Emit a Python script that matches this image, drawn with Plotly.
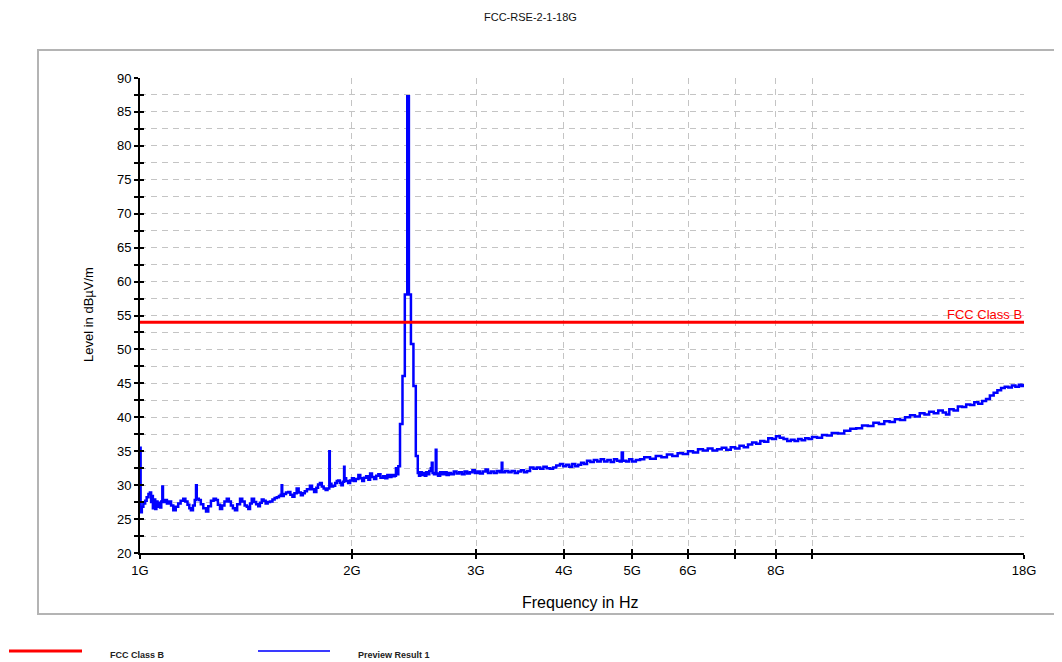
import math
import plotly.graph_objects as go

# ---------------- data ----------------
TITLE = "FCC-RSE-2-1-18G"
X_TITLE = "Frequency in Hz"
Y_TITLE = "Level in dBµV/m"
LIMIT_NAME = "FCC Class B"
TRACE_NAME = "Preview Result 1"

X_TICK_VALS = [1, 2, 3, 4, 5, 6, 7, 8, 9, 18]
X_TICK_TEXT = ["1G", "2G", "3G", "4G", "5G", "6G", "", "8G", "", "18G"]
Y_TICK_VALS = [20 + 2.5 * i for i in range(29)]
Y_TICK_TEXT = [str(int(v)) if v % 5 == 0 else "" for v in Y_TICK_VALS]

LIMIT_FREQ = [1.0, 18.0]
LIMIT_LEVEL = [54.0, 54.0]

freq_1 = [1.000, 1.002, 1.006, 1.011, 1.017, 1.022, 1.028, 1.033, 1.037, 1.040,
          1.043, 1.047, 1.051, 1.055, 1.059, 1.063, 1.068, 1.072, 1.0757, 1.078,
          1.085, 1.092, 1.100, 1.107, 1.115, 1.124, 1.133, 1.142, 1.152, 1.160,
          1.168, 1.175, 1.181, 1.189, 1.196, 1.201, 1.204, 1.212, 1.220, 1.230,
          1.241, 1.250, 1.261, 1.272, 1.282, 1.290, 1.299, 1.308, 1.318, 1.328,
          1.337, 1.346, 1.355, 1.364, 1.374, 1.387, 1.397, 1.408, 1.418, 1.425,
          1.433, 1.441, 1.452, 1.462, 1.472, 1.480, 1.489, 1.498, 1.508, 1.518,
          1.530, 1.542, 1.553, 1.564, 1.575, 1.584, 1.589, 1.592, 1.600, 1.612]
level_1 = [35.5, 26.0, 26.8, 27.3, 27.7, 28.2, 28.7, 28.9, 27.5, 28.4,
           26.6, 27.9, 26.5, 27.6, 26.8, 27.4, 26.7, 27.6, 29.8, 27.5,
           27.8, 27.3, 27.6, 27.0, 26.3, 26.8, 27.3, 27.7, 28.0, 27.6,
           27.1, 26.6, 26.3, 27.0, 27.8, 30.0, 28.0, 27.8, 27.2, 26.6,
           26.1, 26.9, 27.7, 28.0, 27.8, 27.1, 26.5, 27.0, 27.6, 28.0,
           27.6, 27.0, 26.6, 26.3, 27.2, 28.0, 27.6, 27.0, 26.8, 26.5,
           27.3, 28.0, 27.5, 27.2, 26.9, 27.4, 27.9, 27.7, 27.3, 27.5,
           27.6, 27.9, 28.1, 28.2, 28.4, 28.6, 30.0, 28.4, 28.7, 28.9]

freq_2 = [1.624, 1.635, 1.646, 1.657, 1.669, 1.680, 1.692, 1.703, 1.714, 1.726,
          1.743, 1.755, 1.767, 1.780, 1.790, 1.801, 1.812, 1.823, 1.835, 1.846,
          1.855, 1.857, 1.860, 1.870, 1.880, 1.893, 1.903, 1.912, 1.922, 1.932,
          1.941, 1.949, 1.952, 1.962, 1.975, 1.988, 2.000, 2.012, 2.025, 2.042,
          2.055, 2.068, 2.080, 2.095, 2.110, 2.122, 2.135, 2.150, 2.165, 2.180,
          2.195, 2.215, 2.230, 2.245, 2.260, 2.275, 2.290, 2.300]
level_2 = [29.0, 28.6, 28.3, 28.8, 29.5, 28.9, 28.5, 28.8, 29.1, 29.4,
           29.9, 29.4, 29.0, 29.6, 30.1, 30.3, 29.8, 29.5, 29.3, 29.5,
           29.5, 35.0, 30.2, 29.8, 29.9, 30.3, 30.6, 30.7, 30.3, 30.0,
           30.5, 32.7, 31.0, 30.6, 30.3, 30.7, 31.0, 30.6, 30.9, 31.5,
           31.0, 30.6, 31.1, 31.3, 30.8, 31.7, 31.2, 30.9, 31.4, 31.6,
           31.1, 31.3, 31.0, 31.5, 31.2, 31.5, 31.3, 31.4]

freq_3 = [2.309, 2.318, 2.327, 2.340, 2.359, 2.377, 2.396, 2.409, 2.425, 2.445, 2.464, 2.480]
level_3 = [32.5, 31.6, 32.8, 39.0, 46.1, 58.1, 87.3, 58.1, 50.8, 44.6, 34.3, 31.8]

freq_4 = [2.490, 2.500, 2.512, 2.525, 2.538, 2.550, 2.562, 2.575, 2.588, 2.596,
          2.603, 2.615, 2.630, 2.636, 2.650, 2.668, 2.685, 2.705, 2.725, 2.745,
          2.765, 2.790, 2.815, 2.840, 2.865, 2.890, 2.915, 2.940, 2.965, 2.990,
          3.015, 3.040, 3.068, 3.095, 3.120, 3.150, 3.180, 3.210, 3.240, 3.263,
          3.270, 3.300, 3.335, 3.370, 3.405, 3.440, 3.475, 3.510, 3.545, 3.580,
          3.620, 3.660, 3.700, 3.740, 3.780, 3.820, 3.860, 3.900, 3.948, 3.990,
          4.030, 4.070, 4.110, 4.150, 4.190, 4.230, 4.270, 4.313, 4.360, 4.410,
          4.460, 4.510, 4.560, 4.610, 4.660, 4.710, 4.757, 4.800, 4.831, 4.850,
          4.900, 4.950, 5.000, 5.060]
level_4 = [31.4, 31.9, 31.5, 31.8, 31.4, 31.9, 31.6, 32.1, 32.5, 33.3,
           31.8, 31.6, 35.2, 31.7, 31.4, 31.9, 31.6, 31.9, 31.5, 31.8,
           31.6, 32.0, 31.7, 31.9, 31.6, 32.0, 31.7, 31.9, 32.2, 31.8,
           32.0, 31.7, 32.0, 32.3, 31.8, 32.0, 31.8, 32.1, 31.9, 33.3,
           31.9, 32.1, 31.9, 32.1, 31.8, 32.0, 32.2, 31.9, 32.1, 32.6,
           32.4, 32.6, 32.4, 32.7, 32.5, 32.4, 32.6, 32.9, 33.1, 32.8,
           33.0, 32.7, 33.1, 32.8, 33.0, 33.3, 33.1, 33.6, 33.4, 33.7,
           33.5, 33.8, 33.5, 33.7, 33.4, 33.8, 33.6, 33.5, 34.8, 33.6,
           33.5, 33.8, 33.5, 33.7]

freq_5 = [5.130, 5.200, 5.300, 5.400, 5.500, 5.600, 5.700, 5.800, 5.900, 6.000,
          6.100, 6.200, 6.300, 6.400, 6.500, 6.600, 6.700, 6.800, 6.900, 7.000,
          7.100, 7.200, 7.300, 7.400, 7.500, 7.600, 7.700, 7.800, 7.900, 8.000,
          8.100, 8.200, 8.300, 8.400, 8.500, 8.600, 8.700, 8.800, 8.900, 9.000,
          9.150, 9.300, 9.450, 9.600, 9.800, 10.00, 10.20, 10.40, 10.60, 10.80,
          11.00, 11.20, 11.40, 11.60, 11.80, 12.00, 12.20, 12.40, 12.60, 12.80,
          13.00, 13.20, 13.40, 13.60, 13.80, 13.95, 14.10, 14.30, 14.50, 14.70,
          14.90, 15.10, 15.30, 15.50, 15.70, 15.90, 16.10, 16.30, 16.50, 16.70,
          16.90, 17.10, 17.30, 17.50, 17.70, 17.85, 18.00]
level_5 = [33.8, 34.1, 33.9, 34.3, 34.1, 34.5, 34.3, 34.7, 34.6, 35.0,
           34.8, 35.3, 35.1, 35.4, 35.1, 35.3, 35.5, 35.2, 35.6, 35.4,
           35.8, 35.6, 36.0, 36.3, 36.1, 36.5, 36.4, 36.9, 36.8, 37.2,
           37.0, 36.8, 36.5, 36.7, 36.5, 36.8, 36.6, 36.9, 36.8, 37.1,
           37.0, 37.4, 37.3, 37.7, 37.6, 38.0, 38.3, 38.4, 38.8, 38.7,
           39.2, 39.0, 39.4, 39.3, 39.7, 39.6, 40.0, 40.3, 40.1, 40.6,
           40.4, 40.8, 40.6, 41.0, 40.7, 40.4, 41.2, 41.0, 41.6, 41.5,
           41.9, 41.8, 42.2, 42.0, 42.4, 42.7, 43.2, 43.6, 44.0, 44.3,
           44.5, 44.4, 44.7, 44.5, 44.8, 44.6, 44.9]

FREQ_GHZ = freq_1 + freq_2 + freq_3 + freq_4 + freq_5
LEVEL = level_1 + level_2 + level_3 + level_4 + level_5
assert len(FREQ_GHZ) == len(LEVEL)

# ---------------- figure ----------------
FONT = "Liberation Sans, Arial, sans-serif"
OFF = 8                      # browser body margin
W, H = 1062 - OFF, 662 - OFF
ML, MR, MT = 140 - OFF, 38, 78 - OFF
MB = H - (553 - OFF)
PW, PH = W - ML - MR, H - MT - MB


def px_x(p):
    """page pixel x -> paper coordinate"""
    return (p - OFF - ML) / PW


def px_y(p):
    """page pixel y -> paper coordinate"""
    return (H - MB - (p - OFF)) / PH


fig = go.Figure()

fig.add_trace(go.Scatter(x=FREQ_GHZ, y=LEVEL, mode="lines", line_shape="hv",
                         line=dict(color="#0000ff", width=2.5), name=TRACE_NAME,
                         showlegend=False, hoverinfo="skip"))
fig.add_trace(go.Scatter(x=LIMIT_FREQ, y=LIMIT_LEVEL, mode="lines",
                         line=dict(color="#ff0000", width=3), name=LIMIT_NAME,
                         showlegend=False, hoverinfo="skip"))
# dummy trace for overlay axes (crossing tick marks)
fig.add_trace(go.Scatter(x=[None], y=[None], xaxis="x2", yaxis="y2",
                         showlegend=False, hoverinfo="skip"))

xr = [0, math.log10(18)]
yr = [20, 90]

fig.update_layout(
    width=W, height=H,
    margin=dict(l=ML, r=MR, t=MT, b=MB),
    paper_bgcolor="white", plot_bgcolor="white",
    font=dict(family=FONT, color="black"),
    showlegend=False,
    xaxis=dict(type="log", range=xr, tickvals=X_TICK_VALS, ticktext=X_TICK_TEXT,
               showgrid=True, gridcolor="#c4c4c4", griddash="6px,5px", gridwidth=1,
               showline=True, linecolor="black", linewidth=2,
               ticks="outside", ticklen=4, tickwidth=1.5, tickcolor="black",
               tickfont=dict(size=13, family=FONT), zeroline=False),
    yaxis=dict(range=yr, tickvals=Y_TICK_VALS, ticktext=Y_TICK_TEXT,
               showgrid=True, gridcolor="#c4c4c4", griddash="6px,5px", gridwidth=1,
               showline=True, linecolor="black", linewidth=2,
               ticks="outside", ticklen=4, tickwidth=1.5, tickcolor="black",
               tickfont=dict(size=13, family=FONT), zeroline=False),
    xaxis2=dict(type="log", range=xr, overlaying="x", anchor="y2", side="bottom",
                tickvals=X_TICK_VALS, showticklabels=False, showgrid=False,
                ticks="inside", ticklen=4, tickwidth=1.5, tickcolor="black",
                showline=False, zeroline=False),
    yaxis2=dict(range=yr, overlaying="y", anchor="x2", side="left",
                tickvals=Y_TICK_VALS, showticklabels=False, showgrid=False,
                ticks="inside", ticklen=4, tickwidth=1.5, tickcolor="black",
                showline=False, zeroline=False),
)

shapes = [
    # outer frame
    dict(type="rect", xref="paper", yref="paper",
         x0=px_x(38), x1=px_x(1059), y0=px_y(614), y1=px_y(50),
         line=dict(color="#b4b4b4", width=2), fillcolor="rgba(0,0,0,0)", layer="below"),
    # legend swatches
    dict(type="line", xref="paper", yref="paper",
         x0=px_x(9), x1=px_x(82), y0=px_y(651), y1=px_y(651),
         line=dict(color="#ff0000", width=3)),
    dict(type="line", xref="paper", yref="paper",
         x0=px_x(258), x1=px_x(330), y0=px_y(651), y1=px_y(651),
         line=dict(color="#3a3aff", width=2)),
]

annotations = [
    dict(text=TITLE, xref="paper", yref="paper", x=px_x(530), y=px_y(17),
         showarrow=False, font=dict(size=11, family=FONT, color="#111"),
         xanchor="center", yanchor="middle"),
    dict(text=Y_TITLE, xref="paper", yref="paper", x=px_x(88), y=px_y(315),
         showarrow=False, textangle=-90, font=dict(size=13, family=FONT),
         xanchor="center", yanchor="middle"),
    dict(text=X_TITLE, xref="paper", yref="paper", x=px_x(580), y=px_y(602),
         showarrow=False, font=dict(size=16, family=FONT),
         xanchor="center", yanchor="middle"),
    dict(text=LIMIT_NAME, xref="paper", yref="y", x=1.0, y=LIMIT_LEVEL[0],
         showarrow=False, font=dict(size=13, family=FONT, color="#ff0000"),
         xanchor="right", yanchor="bottom", yshift=-2),
    dict(text="<b>" + LIMIT_NAME + "</b>", xref="paper", yref="paper",
         x=px_x(108), y=px_y(655), showarrow=False,
         font=dict(size=9, family=FONT, color="#222"),
         xanchor="left", yanchor="middle"),
    dict(text="<b>" + TRACE_NAME + "</b>", xref="paper", yref="paper",
         x=px_x(356), y=px_y(655), showarrow=False,
         font=dict(size=9, family=FONT, color="#222"),
         xanchor="left", yanchor="middle"),
]

fig.update_layout(shapes=shapes, annotations=annotations)

fig.write_html("out.html")
